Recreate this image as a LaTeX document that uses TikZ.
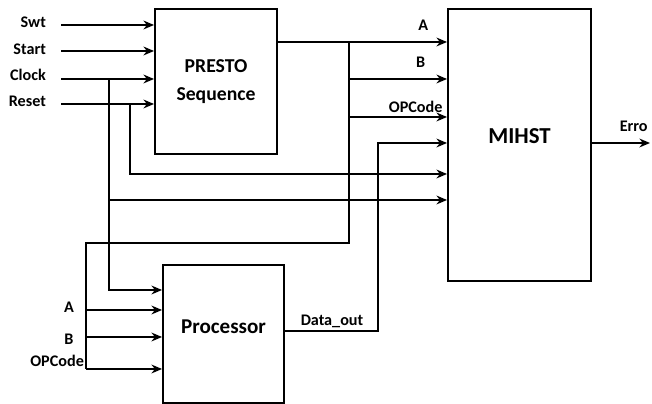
\documentclass[tikz,border=0pt]{standalone}
\usepackage{fontspec}
\setmainfont{Carlito}
\usetikzlibrary{arrows.meta, positioning, calc}
\tikzset{
  blk/.style={rectangle, draw, line width=1.1pt, align=center},
  arr/.style={-{Stealth[length=6pt, width=5pt]}, line width=1.1pt},
  wire/.style={line width=1.1pt},
  sig/.style={font=\bfseries\fontsize{9.2}{11}\selectfont, inner sep=1pt},
}

\begin{document}
\begin{tikzpicture}[x=0.02cm, y=-0.02cm,
  big/.style={font=\bfseries\fontsize{12}{16}\selectfont}
]
  \useasboundingbox (0,0) rectangle (652,404);
  % PRESTO
  \node[blk, minimum width=2.44cm, minimum height=2.9cm, font=\bfseries\fontsize{11.2}{16}\selectfont] (presto) at (216,81.5) {PRESTO\\Sequence};
  % MIHST
  \node[blk, minimum width=2.86cm, minimum height=5.44cm] (mihst) at (519.5,145) {};
  \node[font=\bfseries\fontsize{13}{16}\selectfont] at ($(mihst.center)+(0,-9)$) {MIHST};
  % Processor
  \node[blk, minimum width=2.42cm, minimum height=2.75cm] (proc) at (223.5,334) {};
  \node[big] at ($(proc.center)+(0,-7)$) {Processor};
  % inputs
  \coordinate (swt) at (61,25);
  \coordinate (start) at (61,51);
  \coordinate (clock) at (61,79);
  \coordinate (reset) at (61,104);
  \node[sig, anchor=east] at ($(swt)+(-13,-3)$) {Swt};
  \node[sig, anchor=east] at ($(start)+(-13,-2)$) {Start};
  \node[sig, anchor=east] at ($(clock)+(-13,-4)$) {Clock};
  \node[sig, anchor=east] at ($(reset)+(-13,-3)$) {Reset};
  \draw[arr] (swt) -- (swt -| presto.west);
  \draw[arr] (start) -- (start -| presto.west);
  \draw[arr] (clock) -- (clock -| presto.west);
  \draw[arr] (reset) -- (reset -| presto.west);
  % Clock and Reset taps
  \coordinate (ck) at (109,79);
  \coordinate (rs) at (130,104);
  \draw[arr] (rs) |- (mihst.west |- 0,174);
  \draw[arr] (ck) |- (mihst.west |- 0,200);
  \draw[arr] (ck) |- (proc.west |- 0,290);
  % A / B / OPCode
  \coordinate (ab) at (349,42);
  \draw[arr] (presto.east |- ab) -- (mihst.west |- ab) node[sig, pos=0.86, above=5pt] {A};
  \draw[arr] (ab |- 0,79) -- (mihst.west |- 0,79) node[sig, pos=0.73, above=5pt] {B};
  \draw[arr] (ab |- 0,117) -- (mihst.west |- 0,117) node[sig, pos=0.68, above=1pt] {OPCode};
  \coordinate (bus) at (86,243);
  \draw[wire] (ab) |- (bus) -- (bus |- 0,369);
  \draw[arr] (bus |- 0,310) -- (proc.west |- 0,310);
  \draw[arr] (bus |- 0,337) -- (proc.west |- 0,337);
  \draw[arr] (bus |- 0,369) -- (proc.west |- 0,369);
  \node[sig] at (69,307) {A};
  \node[sig] at (69,339) {B};
  \node[sig, anchor=east] at (86,361) {OPCode};
  % Data_out
  \coordinate (dout) at (378,331);
  \draw[arr] (proc.east |- dout) -- (dout) |- (mihst.west |- 0,143);
  \node[sig] at (332,321) {Data\_out};
  % Erro
  \coordinate (erro) at (650,143);
  \draw[arr] (mihst.east |- erro) -- (erro) node[sig, pos=0.72, above=5pt] {Erro};
\end{tikzpicture}
\end{document}
